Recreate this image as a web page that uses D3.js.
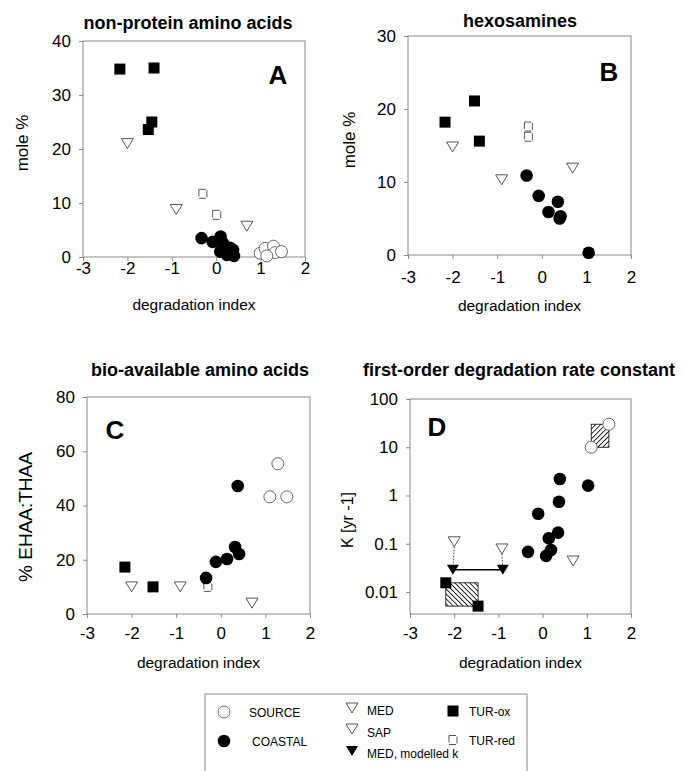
<!DOCTYPE html>
<html>
<head>
<meta charset="utf-8">
<script src="https://cdn.jsdelivr.net/npm/d3@7"></script>
<style>
  body { margin: 0; background: #fff; }
  text { font-family: "Liberation Sans", Arial, Helvetica, sans-serif; fill: #000; }
</style>
</head>
<body>
<svg id="chart" width="684" height="771"></svg>
<script>
// values, [degradation index, value]
const xTicks = [-3, -2, -1, 0, 1, 2]

// A: non-protein amino acids (mole %)
const aTicks = [0, 10, 20, 30, 40]
const aSource = [[0.99, 0.7], [1.1, 1.6], [1.29, 2.0], [1.32, 0.8], [1.14, 0.2], [1.47, 1.0]]
const aCoastal = [[-0.33, 3.5], [-0.08, 2.8], [0.10, 3.8], [0.15, 2.6], [0.2, 1.3], [0.31, 1.7],
                  [0.38, 1.3], [0.09, 1.0], [0.24, 0.4], [0.40, 0.2]]
const aMed = [[-2.0, 21], [-0.9, 8.8], [0.69, 5.7]]
const aTurOx = [[-2.17, 34.8], [-1.4, 35], [-1.45, 25], [-1.53, 23.6]]
const aTurRed = [[-0.3, 11.7], [0.01, 7.8]]

// B: hexosamines (mole %)
const bTicks = [0, 10, 20, 30]
const bCoastal = [[-0.34, 10.9], [-0.07, 8.1], [0.15, 5.9], [0.36, 7.3], [0.4, 5.0], [0.42, 5.3], [1.05, 0.3]]
const bMed = [[-2.0, 14.8], [-0.9, 10.3], [0.69, 11.9]]
const bTurOx = [[-2.17, 18.2], [-1.51, 21.1], [-1.4, 15.6]]
const bTurRed = [[-0.3, 16.2], [-0.3, 17.6]]

// C: bio-available amino acids (% EHAA:THAA)
const cTicks = [0, 20, 40, 60, 80]
const cSource = [[1.28, 55.4], [1.1, 43.2], [1.48, 43.2]]
const cCoastal = [[-0.33, 13.3], [-0.11, 19.2], [0.14, 20.3], [0.32, 24.7], [0.41, 22.1], [0.38, 47.2]]
const cMed = [[-2.0, 10], [-0.91, 10], [0.7, 4]]
const cTurOx = [[-2.15, 17.3], [-1.52, 10]]
const cTurRed = [[-0.29, 10]]

// D: first-order degradation rate constant (K, yr-1)
const dTicks = [100, 10, 1, 0.1, 0.01]
const dSource = [[1.1, 10], [1.5, 30]]
const dCoastal = [[0.39, 2.2], [1.03, 1.6], [0.37, 0.74], [-0.1, 0.42], [0.35, 0.17], [0.14, 0.13],
                  [-0.33, 0.068], [0.19, 0.074], [0.08, 0.056]]
const dMed = [[-2.0, 0.11], [-0.92, 0.078], [0.69, 0.044]]
const dMedModel = [[-2.03, 0.029], [-0.9, 0.029]]
const dTurOx = [[-2.19, 0.0155], [-1.46, 0.0051]]

const legendItems = [
  {key: "source", label: "SOURCE"}, {key: "coastal", label: "COASTAL"},
  {key: "med", label: "MED"}, {key: "sap", label: "SAP"}, {key: "medModel", label: "MED, modelled k"},
  {key: "turOx", label: "TUR-ox"}, {key: "turRed", label: "TUR-red"}
]

const svg = d3.select("#chart")
const frameColor = "#8a8a8a"

const defs = svg.append("defs")
function hatch(id, angle) {
  const p = defs.append("pattern").attr("id", id)
    .attr("patternUnits", "userSpaceOnUse").attr("width", 3.5).attr("height", 3.5)
    .attr("patternTransform", "rotate(" + angle + ")")
  p.append("rect").attr("width", 3.5).attr("height", 3.5).attr("fill", "#fff")
  p.append("line").attr("x1", 0).attr("y1", 0).attr("x2", 0).attr("y2", 3.5)
    .attr("stroke", "#000").attr("stroke-width", 1.6)
}
hatch("hatchDown", -45)
hatch("hatchUp", 45)

const triDown = "M-6,-5L6,-5L0,5Z"

function marker(g, kind, x, y) {
  if (kind == "source") {
    g.append("circle").attr("cx", x).attr("cy", y).attr("r", 6)
      .attr("fill", "#fff").attr("stroke", "#555").attr("stroke-width", 0.9)
  } else if (kind == "coastal") {
    g.append("circle").attr("cx", x).attr("cy", y).attr("r", 6.3).attr("fill", "#000")
  } else if (kind == "med" || kind == "sap") {
    g.append("path").attr("d", triDown).attr("transform", `translate(${x},${y})`)
      .attr("fill", "#fff").attr("stroke", "#444").attr("stroke-width", 0.9)
  } else if (kind == "medModel") {
    g.append("path").attr("d", triDown).attr("transform", `translate(${x},${y})`).attr("fill", "#000")
  } else if (kind == "turOx") {
    g.append("rect").attr("x", x - 5.5).attr("y", y - 5.5).attr("width", 11).attr("height", 11).attr("fill", "#000")
  } else if (kind == "turRed") {
    g.append("rect").attr("x", x - 4).attr("y", y - 4.5).attr("width", 8).attr("height", 9)
      .attr("fill", "#fff").attr("stroke", "#555").attr("stroke-width", 1).attr("stroke-dasharray", "7,2")
  }
}

function panel(p) {
  const x = d3.scaleLinear().domain([-3, 2]).range([p.left, p.right])
  const y = p.log ? d3.scaleLog().domain(p.ydom).range([p.bottom, p.top])
                  : d3.scaleLinear().domain(p.ydom).range([p.bottom, p.top])
  const g = svg.append("g")

  // frame
  g.append("rect").attr("x", p.left).attr("y", p.top)
    .attr("width", p.right - p.left).attr("height", p.bottom - p.top)
    .attr("fill", "none").attr("stroke", frameColor).attr("stroke-width", 1)

  const xa = g.append("g").attr("transform", `translate(0,${p.bottom})`)
    .call(d3.axisBottom(x).tickValues(xTicks).tickSize(4).tickFormat(d3.format("d")))
  xa.select(".domain").remove()
  xa.selectAll("line").attr("stroke", frameColor)
  xa.selectAll("text").attr("y", p.xlab - p.bottom).attr("dy", "0.35em")
    .style("font-size", "17px").text(d => d < 0 ? "-" + Math.abs(d) : d)

  const ya = g.append("g").attr("transform", `translate(${p.left},0)`)
    .call(d3.axisLeft(y).tickValues(p.ticks).tickSize(4).tickFormat(d => d))
  ya.select(".domain").remove()
  ya.selectAll("line").attr("stroke", frameColor)
  ya.selectAll("text").attr("x", -12).style("font-size", "17px")

  g.append("text").attr("x", p.tx).attr("y", p.ty).attr("text-anchor", "middle")
    .attr("dy", "0.35em").style("font-size", "18px").style("font-weight", "bold").text(p.title)
  g.append("text").attr("x", p.lx).attr("y", p.ly).attr("text-anchor", "middle")
    .attr("dy", "0.35em").style("font-size", "26px").style("font-weight", "bold").text(p.letter)
  g.append("text").attr("x", (p.left + p.right) / 2).attr("y", p.xt).attr("text-anchor", "middle")
    .attr("dy", "0.35em").style("font-size", "15.5px").text("degradation index")
  g.append("text").attr("transform", `translate(${p.yx},${p.yy}) rotate(-90)`)
    .attr("text-anchor", "middle").attr("dy", "0.35em").style("font-size", p.ysize).text(p.ytitle)

  return {g, x, y}
}

function drawSet(pp, data, kind) {
  data.forEach(d => marker(pp.g, kind, pp.x(d[0]), pp.y(d[1])))
}

// A
const pa = panel({left: 83, right: 305, top: 41, bottom: 257, ydom: [0, 40], ticks: aTicks, xlab: 268,
  title: "non-protein amino acids", tx: 188, ty: 23, letter: "A", lx: 278, ly: 75,
  xt: 305, ytitle: "mole %", yx: 22, yy: 143, ysize: "17px"})
drawSet(pa, aTurRed, "turRed")
drawSet(pa, aMed, "med")
drawSet(pa, aTurOx, "turOx")
drawSet(pa, aSource, "source")
drawSet(pa, aCoastal, "coastal")

// B
const pb = panel({left: 408, right: 631, top: 36, bottom: 255, ydom: [0, 30], ticks: bTicks, xlab: 277,
  title: "hexosamines", tx: 520, ty: 21, letter: "B", lx: 609, ly: 72,
  xt: 306, ytitle: "mole %", yx: 349, yy: 140, ysize: "17px"})
drawSet(pb, bTurRed, "turRed")
drawSet(pb, bMed, "med")
drawSet(pb, bTurOx, "turOx")
drawSet(pb, bCoastal, "coastal")

// C
const pc = panel({left: 87, right: 310, top: 397, bottom: 614, ydom: [0, 80], ticks: cTicks, xlab: 633,
  title: "bio-available amino acids", tx: 200, ty: 370, letter: "C", lx: 115, ly: 430,
  xt: 663, ytitle: "% EHAA:THAA", yx: 25, yy: 517, ysize: "19px"})
drawSet(pc, cTurRed, "turRed")
drawSet(pc, cMed, "med")
drawSet(pc, cTurOx, "turOx")
drawSet(pc, cSource, "source")
drawSet(pc, cCoastal, "coastal")

// D
const pd = panel({left: 410, right: 631, top: 399, bottom: 614, ydom: [0.0035, 100], log: true, ticks: dTicks, xlab: 633,
  title: "first-order degradation rate constant", tx: 519, ty: 370, letter: "D", lx: 437, ly: 427,
  xt: 663, ytitle: "K [yr -1]", yx: 347, yy: 520, ysize: "16px"})

function hatchBox(pp, pts, fill) {
  const xs = pts.map(d => pp.x(d[0])), ys = pts.map(d => pp.y(d[1]))
  pp.g.append("rect").attr("x", d3.min(xs)).attr("y", d3.min(ys))
    .attr("width", d3.max(xs) - d3.min(xs)).attr("height", d3.max(ys) - d3.min(ys))
    .attr("fill", "url(#" + fill + ")").attr("stroke", "#000").attr("stroke-width", 0.8)
}
hatchBox(pd, dTurOx, "hatchDown")
hatchBox(pd, dSource, "hatchUp")

// dotted drop from measured MED to modelled k, and the joining line
dMedModel.forEach((d, i) => {
  pd.g.append("line").attr("x1", pd.x(dMed[i][0])).attr("x2", pd.x(d[0]))
    .attr("y1", pd.y(dMed[i][1]) + 5).attr("y2", pd.y(d[1]))
    .attr("stroke", "#444").attr("stroke-width", 1).attr("stroke-dasharray", "1.5,1.5")
})
pd.g.append("path").datum(dMedModel)
  .attr("d", d3.line().x(d => pd.x(d[0])).y(d => pd.y(d[1])))
  .attr("stroke", "#000").attr("stroke-width", 1.5).attr("fill", "none")

drawSet(pd, dMed, "med")
drawSet(pd, dMedModel, "medModel")
drawSet(pd, dTurOx, "turOx")
drawSet(pd, dSource, "source")
drawSet(pd, dCoastal, "coastal")

// legend
const lg = svg.append("g")
lg.append("rect").attr("x", 205).attr("y", 694).attr("width", 322).attr("height", 90)
  .attr("fill", "none").attr("stroke", frameColor).attr("stroke-width", 1)
const legendPos = {
  source: [224, 712, 249, 713], coastal: [224, 741, 252, 742],
  med: [352, 708, 367, 711], sap: [352, 729, 367, 733], medModel: [352, 751, 367, 754],
  turOx: [453, 711, 469, 712], turRed: [453, 740, 469, 741]
}
legendItems.forEach(it => {
  const p = legendPos[it.key]
  marker(lg, it.key, p[0], p[1])
  lg.append("text").attr("x", p[2]).attr("y", p[3]).attr("dy", "0.35em")
    .style("font-size", "12px").text(it.label)
})
</script>
</body>
</html>
